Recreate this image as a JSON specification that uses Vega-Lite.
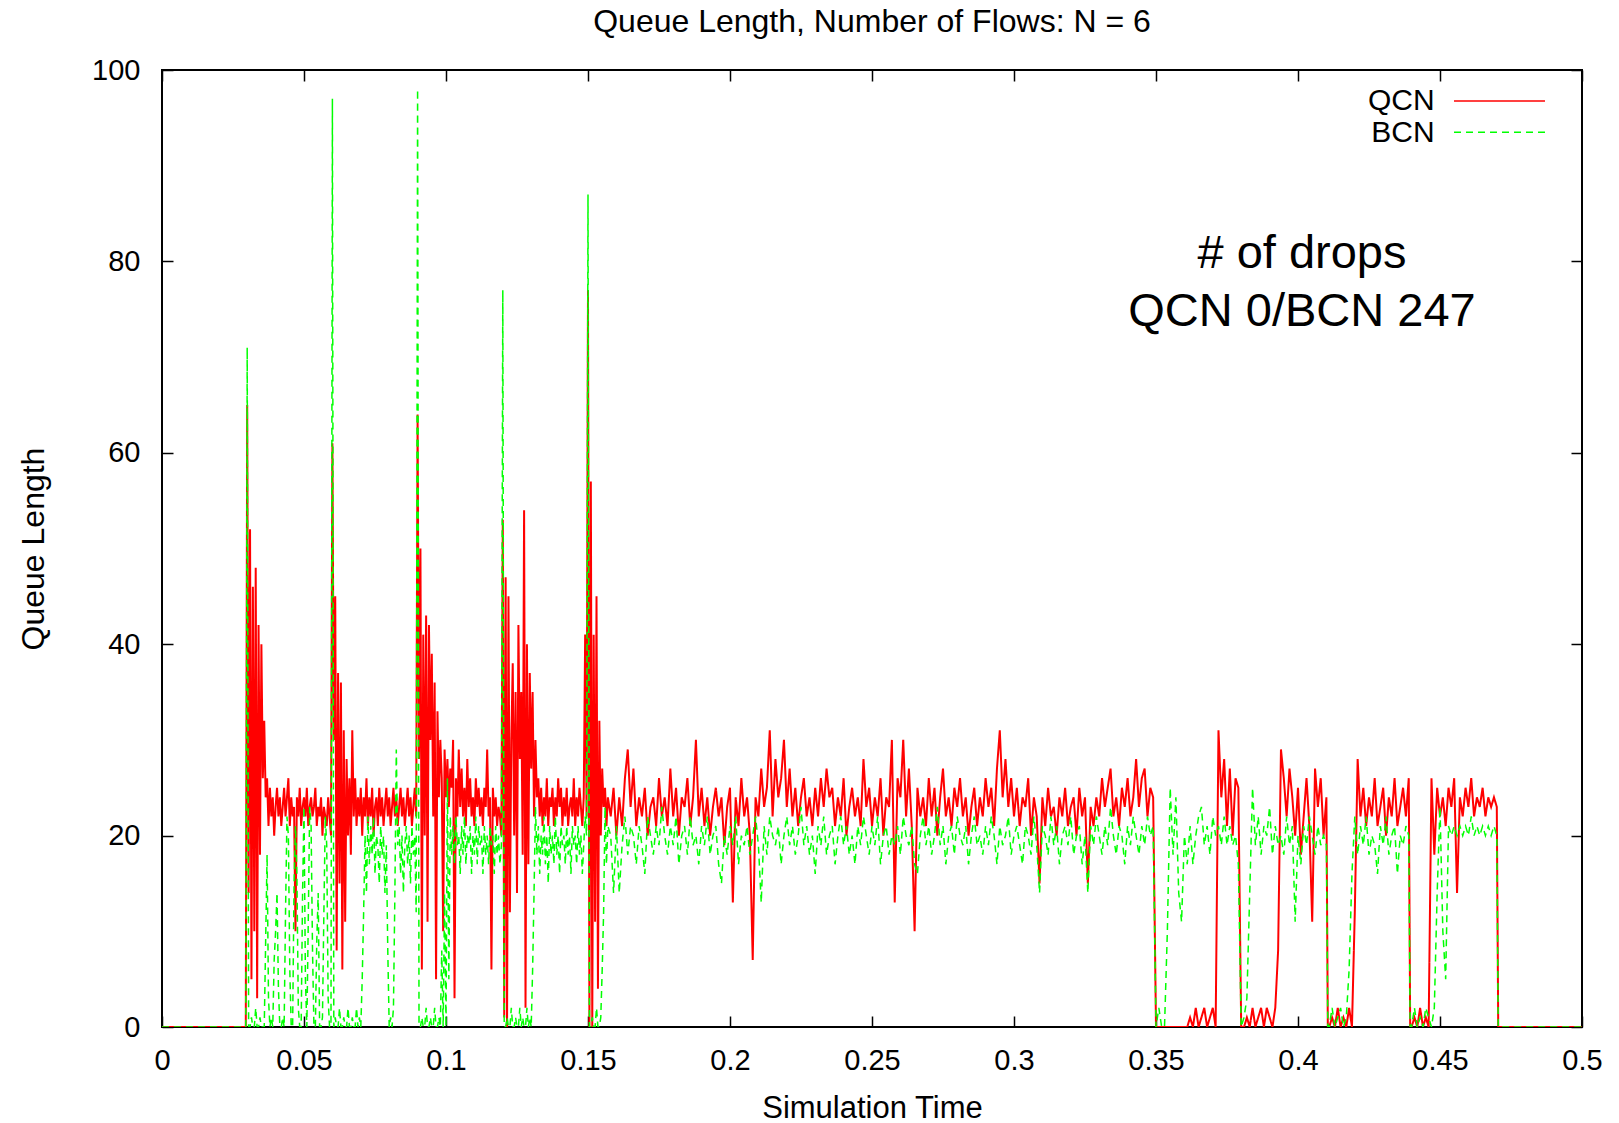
{
"$schema": "https://vega.github.io/schema/vega-lite/v6.json",
"width": 1420,
"height": 957,
"autosize": {"type": "none"},
"padding": {"left": 162, "top": 70, "right": 37, "bottom": 96},
"background": "white",
"title": {"text": "Queue Length, Number of Flows: N = 6", "fontSize": 32, "font": "Liberation Sans", "fontWeight": "normal", "color": "#000", "baseline": "alphabetic", "offset": 21.5, "dy": 29, "anchor": "middle"},
"datasets": {"q": [
{"t":0,"QCN":0,"BCN":0},{"t":0.0295,"QCN":0,"BCN":0},
{"t":0.03,"QCN":65,"BCN":71},{"t":0.0305,"QCN":14,"BCN":0},{"t":0.031,"QCN":52,"BCN":0},{"t":0.0315,"QCN":5,"BCN":1},{"t":0.032,"QCN":46,"BCN":0},{"t":0.0325,"QCN":10,"BCN":0},{"t":0.033,"QCN":48,"BCN":2},{"t":0.0335,"QCN":3,"BCN":0},{"t":0.034,"QCN":42,"BCN":0},{"t":0.0345,"QCN":18,"BCN":1},{"t":0.035,"QCN":40,"BCN":0},{"t":0.0355,"QCN":26,"BCN":0},{"t":0.036,"QCN":32,"BCN":0},{"t":0.0365,"QCN":24,"BCN":9},{"t":0.037,"QCN":26,"BCN":18},{"t":0.0375,"QCN":21,"BCN":3},{"t":0.038,"QCN":25,"BCN":0},{"t":0.0385,"QCN":22,"BCN":1},{"t":0.039,"QCN":24,"BCN":0},{"t":0.0395,"QCN":20,"BCN":7},
{"t":0.04,"QCN":23,"BCN":10},{"t":0.0405,"QCN":25,"BCN":14},{"t":0.041,"QCN":22,"BCN":4},{"t":0.0415,"QCN":24,"BCN":0},{"t":0.042,"QCN":21,"BCN":0},{"t":0.0425,"QCN":23,"BCN":1},{"t":0.043,"QCN":25,"BCN":0},{"t":0.0435,"QCN":22,"BCN":12},{"t":0.044,"QCN":24,"BCN":22},{"t":0.0445,"QCN":26,"BCN":20},{"t":0.045,"QCN":21,"BCN":6},{"t":0.0455,"QCN":24,"BCN":0},{"t":0.046,"QCN":22,"BCN":0},{"t":0.0465,"QCN":23,"BCN":15},{"t":0.047,"QCN":10,"BCN":21},{"t":0.0475,"QCN":24,"BCN":16},{"t":0.048,"QCN":22,"BCN":2},{"t":0.0485,"QCN":25,"BCN":0},{"t":0.049,"QCN":21,"BCN":0},{"t":0.0495,"QCN":23,"BCN":14},
{"t":0.05,"QCN":24,"BCN":23},{"t":0.0505,"QCN":22,"BCN":5},{"t":0.051,"QCN":25,"BCN":0},{"t":0.0515,"QCN":21,"BCN":11},{"t":0.052,"QCN":23,"BCN":23},{"t":0.0525,"QCN":24,"BCN":21},{"t":0.053,"QCN":22,"BCN":8},{"t":0.0535,"QCN":23,"BCN":0},{"t":0.054,"QCN":25,"BCN":0},{"t":0.0545,"QCN":21,"BCN":9},{"t":0.055,"QCN":23,"BCN":14},{"t":0.0555,"QCN":22,"BCN":0},{"t":0.056,"QCN":24,"BCN":0},{"t":0.0565,"QCN":20,"BCN":1},{"t":0.057,"QCN":23,"BCN":12},{"t":0.0575,"QCN":22,"BCN":22},{"t":0.058,"QCN":21,"BCN":19},{"t":0.0585,"QCN":24,"BCN":3},{"t":0.059,"QCN":22,"BCN":0},{"t":0.0595,"QCN":20,"BCN":0},
{"t":0.06,"QCN":61,"BCN":97},{"t":0.0605,"QCN":30,"BCN":0},{"t":0.061,"QCN":45,"BCN":1},{"t":0.0615,"QCN":8,"BCN":0},{"t":0.062,"QCN":37,"BCN":0},{"t":0.0625,"QCN":15,"BCN":2},{"t":0.063,"QCN":36,"BCN":0},{"t":0.0635,"QCN":6,"BCN":0},{"t":0.064,"QCN":31,"BCN":1},{"t":0.0645,"QCN":11,"BCN":0},{"t":0.065,"QCN":28,"BCN":0},{"t":0.0655,"QCN":20,"BCN":2},{"t":0.066,"QCN":26,"BCN":0},{"t":0.0665,"QCN":18,"BCN":0},{"t":0.067,"QCN":31,"BCN":1},{"t":0.0675,"QCN":22,"BCN":0},{"t":0.068,"QCN":26,"BCN":0},{"t":0.0685,"QCN":21,"BCN":2},{"t":0.069,"QCN":24,"BCN":0},{"t":0.0695,"QCN":22,"BCN":1},
{"t":0.07,"QCN":25,"BCN":0},{"t":0.0705,"QCN":20,"BCN":5},{"t":0.071,"QCN":24,"BCN":12},{"t":0.0715,"QCN":22,"BCN":20},{"t":0.072,"QCN":26,"BCN":14},{"t":0.0725,"QCN":21,"BCN":22},{"t":0.073,"QCN":24,"BCN":17},{"t":0.0735,"QCN":22,"BCN":21},{"t":0.074,"QCN":25,"BCN":18},{"t":0.0745,"QCN":20,"BCN":22},{"t":0.075,"QCN":23,"BCN":16},{"t":0.0755,"QCN":24,"BCN":20},{"t":0.076,"QCN":21,"BCN":19},{"t":0.0765,"QCN":25,"BCN":15},{"t":0.077,"QCN":22,"BCN":21},{"t":0.0775,"QCN":24,"BCN":18},{"t":0.078,"QCN":21,"BCN":20},{"t":0.0785,"QCN":23,"BCN":14},{"t":0.079,"QCN":25,"BCN":19},{"t":0.0795,"QCN":22,"BCN":8},
{"t":0.08,"QCN":24,"BCN":0},{"t":0.0805,"QCN":21,"BCN":1},{"t":0.081,"QCN":23,"BCN":0},{"t":0.0815,"QCN":25,"BCN":2},{"t":0.082,"QCN":22,"BCN":14},{"t":0.0825,"QCN":24,"BCN":29},{"t":0.083,"QCN":21,"BCN":19},{"t":0.0835,"QCN":23,"BCN":21},{"t":0.084,"QCN":25,"BCN":16},{"t":0.0845,"QCN":22,"BCN":20},{"t":0.085,"QCN":24,"BCN":14},{"t":0.0855,"QCN":21,"BCN":19},{"t":0.086,"QCN":23,"BCN":21},{"t":0.0865,"QCN":25,"BCN":17},{"t":0.087,"QCN":22,"BCN":20},{"t":0.0875,"QCN":24,"BCN":15},{"t":0.088,"QCN":21,"BCN":21},{"t":0.0885,"QCN":23,"BCN":18},{"t":0.089,"QCN":25,"BCN":20},{"t":0.0895,"QCN":22,"BCN":12},
{"t":0.09,"QCN":64,"BCN":98},{"t":0.0905,"QCN":28,"BCN":0},{"t":0.091,"QCN":50,"BCN":0},{"t":0.0915,"QCN":6,"BCN":1},{"t":0.092,"QCN":41,"BCN":0},{"t":0.0925,"QCN":20,"BCN":0},{"t":0.093,"QCN":43,"BCN":2},{"t":0.0935,"QCN":11,"BCN":0},{"t":0.094,"QCN":42,"BCN":0},{"t":0.0945,"QCN":30,"BCN":1},{"t":0.095,"QCN":39,"BCN":0},{"t":0.0955,"QCN":22,"BCN":0},{"t":0.096,"QCN":36,"BCN":2},{"t":0.0965,"QCN":5,"BCN":0},{"t":0.097,"QCN":33,"BCN":0},{"t":0.0975,"QCN":24,"BCN":1},{"t":0.098,"QCN":30,"BCN":0},{"t":0.0985,"QCN":26,"BCN":8},{"t":0.099,"QCN":10,"BCN":0},{"t":0.0995,"QCN":29,"BCN":14},
{"t":0.1,"QCN":24,"BCN":0},{"t":0.1005,"QCN":28,"BCN":26},{"t":0.101,"QCN":23,"BCN":5},{"t":0.1015,"QCN":27,"BCN":22},{"t":0.102,"QCN":25,"BCN":18},{"t":0.1025,"QCN":30,"BCN":21},{"t":0.103,"QCN":3,"BCN":17},{"t":0.1035,"QCN":26,"BCN":22},{"t":0.104,"QCN":22,"BCN":19},{"t":0.1045,"QCN":29,"BCN":20},{"t":0.105,"QCN":23,"BCN":16},{"t":0.1055,"QCN":27,"BCN":21},{"t":0.106,"QCN":22,"BCN":18},{"t":0.1065,"QCN":25,"BCN":22},{"t":0.107,"QCN":21,"BCN":17},{"t":0.1075,"QCN":28,"BCN":20},{"t":0.108,"QCN":23,"BCN":19},{"t":0.1085,"QCN":26,"BCN":21},{"t":0.109,"QCN":22,"BCN":16},{"t":0.1095,"QCN":24,"BCN":20},
{"t":0.11,"QCN":21,"BCN":18},{"t":0.1105,"QCN":26,"BCN":22},{"t":0.111,"QCN":23,"BCN":17},{"t":0.1115,"QCN":25,"BCN":21},{"t":0.112,"QCN":22,"BCN":19},{"t":0.1125,"QCN":24,"BCN":20},{"t":0.113,"QCN":21,"BCN":16},{"t":0.1135,"QCN":25,"BCN":21},{"t":0.114,"QCN":23,"BCN":18},{"t":0.1145,"QCN":29,"BCN":20},{"t":0.115,"QCN":22,"BCN":17},{"t":0.1155,"QCN":24,"BCN":21},{"t":0.116,"QCN":6,"BCN":19},{"t":0.1165,"QCN":25,"BCN":20},{"t":0.117,"QCN":22,"BCN":16},{"t":0.1175,"QCN":24,"BCN":21},{"t":0.118,"QCN":21,"BCN":18},{"t":0.1185,"QCN":23,"BCN":20},{"t":0.119,"QCN":22,"BCN":17},{"t":0.1195,"QCN":20,"BCN":19},
{"t":0.12,"QCN":53,"BCN":77},{"t":0.1205,"QCN":1,"BCN":0},{"t":0.121,"QCN":47,"BCN":0},{"t":0.1215,"QCN":0,"BCN":1},{"t":0.122,"QCN":45,"BCN":0},{"t":0.1225,"QCN":12,"BCN":0},{"t":0.123,"QCN":30,"BCN":2},{"t":0.1235,"QCN":38,"BCN":0},{"t":0.124,"QCN":20,"BCN":0},{"t":0.1245,"QCN":35,"BCN":1},{"t":0.125,"QCN":14,"BCN":0},{"t":0.1255,"QCN":42,"BCN":0},{"t":0.126,"QCN":28,"BCN":2},{"t":0.1265,"QCN":35,"BCN":0},{"t":0.127,"QCN":18,"BCN":1},{"t":0.1275,"QCN":54,"BCN":0},{"t":0.128,"QCN":2,"BCN":0},{"t":0.1285,"QCN":40,"BCN":2},{"t":0.129,"QCN":17,"BCN":0},{"t":0.1295,"QCN":37,"BCN":1},
{"t":0.13,"QCN":27,"BCN":0},{"t":0.1305,"QCN":35,"BCN":6},{"t":0.131,"QCN":22,"BCN":14},{"t":0.1315,"QCN":30,"BCN":23},{"t":0.132,"QCN":24,"BCN":18},{"t":0.1325,"QCN":26,"BCN":21},{"t":0.133,"QCN":22,"BCN":16},{"t":0.1335,"QCN":25,"BCN":20},{"t":0.134,"QCN":21,"BCN":18},{"t":0.1345,"QCN":24,"BCN":22},{"t":0.135,"QCN":22,"BCN":17},{"t":0.1355,"QCN":26,"BCN":20},{"t":0.136,"QCN":21,"BCN":15},{"t":0.1365,"QCN":24,"BCN":21},{"t":0.137,"QCN":23,"BCN":18},{"t":0.1375,"QCN":25,"BCN":20},{"t":0.138,"QCN":21,"BCN":17},{"t":0.1385,"QCN":24,"BCN":22},{"t":0.139,"QCN":22,"BCN":18},{"t":0.1395,"QCN":26,"BCN":20},
{"t":0.14,"QCN":23,"BCN":16},{"t":0.1405,"QCN":25,"BCN":21},{"t":0.141,"QCN":21,"BCN":19},{"t":0.1415,"QCN":24,"BCN":20},{"t":0.142,"QCN":22,"BCN":17},{"t":0.1425,"QCN":25,"BCN":21},{"t":0.143,"QCN":21,"BCN":18},{"t":0.1435,"QCN":23,"BCN":20},{"t":0.144,"QCN":24,"BCN":16},{"t":0.1445,"QCN":22,"BCN":21},{"t":0.145,"QCN":26,"BCN":19},{"t":0.1455,"QCN":21,"BCN":20},{"t":0.146,"QCN":24,"BCN":17},{"t":0.1465,"QCN":22,"BCN":21},{"t":0.147,"QCN":25,"BCN":18},{"t":0.1475,"QCN":23,"BCN":20},{"t":0.148,"QCN":21,"BCN":16},{"t":0.1485,"QCN":24,"BCN":19},{"t":0.149,"QCN":41,"BCN":22},{"t":0.1495,"QCN":22,"BCN":20},
{"t":0.15,"QCN":77,"BCN":87},{"t":0.1505,"QCN":0,"BCN":0},{"t":0.151,"QCN":57,"BCN":0},{"t":0.1515,"QCN":0,"BCN":1},{"t":0.152,"QCN":41,"BCN":0},{"t":0.1525,"QCN":11,"BCN":0},{"t":0.153,"QCN":45,"BCN":2},{"t":0.1535,"QCN":4,"BCN":0},{"t":0.154,"QCN":32,"BCN":0},{"t":0.1545,"QCN":20,"BCN":1},{"t":0.155,"QCN":27,"BCN":6},{"t":0.1555,"QCN":23,"BCN":12},{"t":0.156,"QCN":25,"BCN":23},{"t":0.1565,"QCN":21,"BCN":17},{"t":0.157,"QCN":24,"BCN":21},
{"t":0.158,"QCN":22,"BCN":20},{"t":0.159,"QCN":25,"BCN":14},{"t":0.16,"QCN":20,"BCN":21},{"t":0.161,"QCN":24,"BCN":14},{"t":0.162,"QCN":21,"BCN":19},{"t":0.163,"QCN":26,"BCN":22},{"t":0.164,"QCN":29,"BCN":18},{"t":0.165,"QCN":23,"BCN":21},{"t":0.166,"QCN":27,"BCN":20},{"t":0.167,"QCN":21,"BCN":17},
{"t":0.168,"QCN":24,"BCN":21},{"t":0.169,"QCN":22,"BCN":19},{"t":0.17,"QCN":25,"BCN":16},{"t":0.171,"QCN":20,"BCN":22},{"t":0.172,"QCN":23,"BCN":20},{"t":0.173,"QCN":24,"BCN":18},{"t":0.174,"QCN":21,"BCN":21},{"t":0.175,"QCN":26,"BCN":19},{"t":0.176,"QCN":22,"BCN":23},{"t":0.177,"QCN":24,"BCN":20},
{"t":0.178,"QCN":21,"BCN":18},{"t":0.179,"QCN":27,"BCN":21},{"t":0.18,"QCN":22,"BCN":19},{"t":0.181,"QCN":25,"BCN":22},{"t":0.182,"QCN":20,"BCN":17},{"t":0.183,"QCN":24,"BCN":20},{"t":0.184,"QCN":23,"BCN":21},{"t":0.185,"QCN":26,"BCN":18},{"t":0.186,"QCN":21,"BCN":22},{"t":0.187,"QCN":24,"BCN":19},
{"t":0.188,"QCN":30,"BCN":20},{"t":0.189,"QCN":22,"BCN":17},{"t":0.19,"QCN":25,"BCN":21},{"t":0.191,"QCN":21,"BCN":19},{"t":0.192,"QCN":24,"BCN":22},{"t":0.193,"QCN":20,"BCN":18},{"t":0.194,"QCN":23,"BCN":20},{"t":0.195,"QCN":25,"BCN":21},{"t":0.196,"QCN":22,"BCN":17},{"t":0.197,"QCN":24,"BCN":15},
{"t":0.198,"QCN":19,"BCN":20},{"t":0.199,"QCN":23,"BCN":18},{"t":0.2,"QCN":25,"BCN":21},{"t":0.201,"QCN":13,"BCN":19},{"t":0.202,"QCN":24,"BCN":22},{"t":0.203,"QCN":21,"BCN":17},{"t":0.204,"QCN":26,"BCN":20},{"t":0.205,"QCN":22,"BCN":19},{"t":0.206,"QCN":24,"BCN":21},{"t":0.207,"QCN":20,"BCN":18},
{"t":0.208,"QCN":7,"BCN":20},{"t":0.209,"QCN":24,"BCN":22},{"t":0.21,"QCN":22,"BCN":19},{"t":0.211,"QCN":27,"BCN":13},{"t":0.212,"QCN":23,"BCN":21},{"t":0.213,"QCN":25,"BCN":18},{"t":0.214,"QCN":31,"BCN":22},{"t":0.215,"QCN":22,"BCN":20},{"t":0.216,"QCN":28,"BCN":19},{"t":0.217,"QCN":24,"BCN":21},
{"t":0.218,"QCN":26,"BCN":17},{"t":0.219,"QCN":30,"BCN":20},{"t":0.22,"QCN":23,"BCN":22},{"t":0.221,"QCN":27,"BCN":19},{"t":0.222,"QCN":22,"BCN":21},{"t":0.223,"QCN":25,"BCN":18},{"t":0.224,"QCN":21,"BCN":20},{"t":0.225,"QCN":24,"BCN":23},{"t":0.226,"QCN":26,"BCN":19},{"t":0.227,"QCN":22,"BCN":21},
{"t":0.228,"QCN":24,"BCN":18},{"t":0.229,"QCN":21,"BCN":20},{"t":0.23,"QCN":25,"BCN":16},{"t":0.231,"QCN":22,"BCN":21},{"t":0.232,"QCN":26,"BCN":19},{"t":0.233,"QCN":23,"BCN":22},{"t":0.234,"QCN":27,"BCN":18},{"t":0.235,"QCN":24,"BCN":20},{"t":0.236,"QCN":25,"BCN":21},{"t":0.237,"QCN":21,"BCN":17},
{"t":0.238,"QCN":24,"BCN":20},{"t":0.239,"QCN":22,"BCN":22},{"t":0.24,"QCN":26,"BCN":19},{"t":0.241,"QCN":20,"BCN":21},{"t":0.242,"QCN":23,"BCN":18},{"t":0.243,"QCN":25,"BCN":20},{"t":0.244,"QCN":22,"BCN":17},{"t":0.245,"QCN":24,"BCN":21},{"t":0.246,"QCN":21,"BCN":19},{"t":0.247,"QCN":28,"BCN":22},
{"t":0.248,"QCN":23,"BCN":20},{"t":0.249,"QCN":25,"BCN":18},{"t":0.25,"QCN":21,"BCN":21},{"t":0.251,"QCN":24,"BCN":19},{"t":0.252,"QCN":22,"BCN":22},{"t":0.253,"QCN":26,"BCN":17},{"t":0.254,"QCN":20,"BCN":20},{"t":0.255,"QCN":24,"BCN":21},{"t":0.256,"QCN":23,"BCN":18},{"t":0.257,"QCN":30,"BCN":20},
{"t":0.258,"QCN":13,"BCN":19},{"t":0.259,"QCN":26,"BCN":21},{"t":0.26,"QCN":24,"BCN":18},{"t":0.261,"QCN":30,"BCN":22},{"t":0.262,"QCN":22,"BCN":20},{"t":0.263,"QCN":27,"BCN":19},{"t":0.264,"QCN":21,"BCN":21},{"t":0.265,"QCN":10,"BCN":17},{"t":0.266,"QCN":25,"BCN":16},{"t":0.267,"QCN":22,"BCN":20},
{"t":0.268,"QCN":24,"BCN":22},{"t":0.269,"QCN":21,"BCN":19},{"t":0.27,"QCN":26,"BCN":21},{"t":0.271,"QCN":22,"BCN":18},{"t":0.272,"QCN":25,"BCN":20},{"t":0.273,"QCN":20,"BCN":23},{"t":0.274,"QCN":24,"BCN":19},{"t":0.275,"QCN":27,"BCN":21},{"t":0.276,"QCN":22,"BCN":17},{"t":0.277,"QCN":24,"BCN":20},
{"t":0.278,"QCN":21,"BCN":21},{"t":0.279,"QCN":25,"BCN":18},{"t":0.28,"QCN":23,"BCN":22},{"t":0.281,"QCN":26,"BCN":20},{"t":0.282,"QCN":22,"BCN":19},{"t":0.283,"QCN":24,"BCN":21},{"t":0.284,"QCN":20,"BCN":17},{"t":0.285,"QCN":23,"BCN":20},{"t":0.286,"QCN":25,"BCN":22},{"t":0.287,"QCN":21,"BCN":19},
{"t":0.288,"QCN":24,"BCN":20},{"t":0.289,"QCN":22,"BCN":18},{"t":0.29,"QCN":26,"BCN":21},{"t":0.291,"QCN":23,"BCN":19},{"t":0.292,"QCN":25,"BCN":22},{"t":0.293,"QCN":21,"BCN":20},{"t":0.294,"QCN":27,"BCN":17},{"t":0.295,"QCN":31,"BCN":21},{"t":0.296,"QCN":24,"BCN":19},{"t":0.297,"QCN":28,"BCN":20},
{"t":0.298,"QCN":23,"BCN":22},{"t":0.299,"QCN":26,"BCN":18},{"t":0.3,"QCN":22,"BCN":20},{"t":0.301,"QCN":25,"BCN":21},{"t":0.302,"QCN":21,"BCN":19},{"t":0.303,"QCN":24,"BCN":17},{"t":0.304,"QCN":23,"BCN":21},{"t":0.305,"QCN":26,"BCN":20},{"t":0.306,"QCN":20,"BCN":18},{"t":0.307,"QCN":24,"BCN":22},
{"t":0.308,"QCN":22,"BCN":19},{"t":0.309,"QCN":15,"BCN":14},{"t":0.31,"QCN":24,"BCN":21},{"t":0.311,"QCN":21,"BCN":20},{"t":0.312,"QCN":25,"BCN":18},{"t":0.313,"QCN":22,"BCN":22},{"t":0.314,"QCN":23,"BCN":19},{"t":0.315,"QCN":20,"BCN":21},{"t":0.316,"QCN":24,"BCN":17},{"t":0.317,"QCN":22,"BCN":20},
{"t":0.318,"QCN":25,"BCN":21},{"t":0.319,"QCN":21,"BCN":19},{"t":0.32,"QCN":23,"BCN":22},{"t":0.321,"QCN":24,"BCN":18},{"t":0.322,"QCN":20,"BCN":20},{"t":0.323,"QCN":25,"BCN":21},{"t":0.324,"QCN":22,"BCN":17},{"t":0.325,"QCN":24,"BCN":20},{"t":0.326,"QCN":15,"BCN":14},{"t":0.327,"QCN":23,"BCN":21},
{"t":0.328,"QCN":21,"BCN":19},{"t":0.329,"QCN":24,"BCN":22},{"t":0.33,"QCN":22,"BCN":20},{"t":0.331,"QCN":26,"BCN":18},{"t":0.332,"QCN":23,"BCN":21},{"t":0.333,"QCN":25,"BCN":19},{"t":0.334,"QCN":27,"BCN":23},{"t":0.335,"QCN":22,"BCN":20},{"t":0.336,"QCN":24,"BCN":18},{"t":0.337,"QCN":21,"BCN":21},
{"t":0.338,"QCN":25,"BCN":20},{"t":0.339,"QCN":23,"BCN":17},{"t":0.34,"QCN":26,"BCN":21},{"t":0.341,"QCN":22,"BCN":19},{"t":0.342,"QCN":24,"BCN":22},{"t":0.343,"QCN":28,"BCN":20},{"t":0.344,"QCN":23,"BCN":18},{"t":0.345,"QCN":26,"BCN":21},{"t":0.346,"QCN":27,"BCN":19},{"t":0.347,"QCN":22,"BCN":22},
{"t":0.348,"QCN":25,"BCN":20},{"t":0.349,"QCN":24,"BCN":21},
{"t":0.35,"QCN":0,"BCN":0},{"t":0.351,"QCN":0,"BCN":2},{"t":0.352,"QCN":0,"BCN":0},{"t":0.353,"QCN":0,"BCN":0},{"t":0.354,"QCN":0,"BCN":10},{"t":0.355,"QCN":0,"BCN":25},{"t":0.356,"QCN":0,"BCN":18},{"t":0.357,"QCN":0,"BCN":24},{"t":0.358,"QCN":0,"BCN":14},{"t":0.359,"QCN":0,"BCN":11},
{"t":0.36,"QCN":0,"BCN":20},{"t":0.361,"QCN":0,"BCN":17},{"t":0.362,"QCN":1,"BCN":21},{"t":0.363,"QCN":0,"BCN":17},{"t":0.364,"QCN":2,"BCN":20},{"t":0.365,"QCN":0,"BCN":22},{"t":0.366,"QCN":1,"BCN":23},{"t":0.367,"QCN":2,"BCN":19},{"t":0.368,"QCN":0,"BCN":21},{"t":0.369,"QCN":1,"BCN":18},
{"t":0.37,"QCN":2,"BCN":22},{"t":0.371,"QCN":0,"BCN":20},{"t":0.372,"QCN":31,"BCN":21},{"t":0.373,"QCN":24,"BCN":19},{"t":0.374,"QCN":28,"BCN":22},{"t":0.375,"QCN":21,"BCN":19},{"t":0.376,"QCN":27,"BCN":21},{"t":0.377,"QCN":20,"BCN":19},{"t":0.378,"QCN":26,"BCN":20},{"t":0.379,"QCN":25,"BCN":17},
{"t":0.38,"QCN":0,"BCN":0},{"t":0.381,"QCN":0,"BCN":1},{"t":0.382,"QCN":1,"BCN":3},{"t":0.383,"QCN":0,"BCN":14},{"t":0.384,"QCN":2,"BCN":25},{"t":0.385,"QCN":0,"BCN":19},{"t":0.386,"QCN":1,"BCN":22},{"t":0.387,"QCN":2,"BCN":18},{"t":0.388,"QCN":0,"BCN":21},{"t":0.389,"QCN":2,"BCN":20},
{"t":0.39,"QCN":1,"BCN":23},{"t":0.391,"QCN":0,"BCN":18},{"t":0.392,"QCN":2,"BCN":21},{"t":0.393,"QCN":8,"BCN":19},{"t":0.394,"QCN":29,"BCN":20},{"t":0.395,"QCN":26,"BCN":18},{"t":0.396,"QCN":22,"BCN":22},{"t":0.397,"QCN":27,"BCN":19},{"t":0.398,"QCN":24,"BCN":21},{"t":0.399,"QCN":20,"BCN":11},
{"t":0.4,"QCN":25,"BCN":20},{"t":0.401,"QCN":18,"BCN":17},{"t":0.402,"QCN":22,"BCN":21},{"t":0.403,"QCN":26,"BCN":19},{"t":0.404,"QCN":21,"BCN":22},{"t":0.405,"QCN":11,"BCN":20},{"t":0.406,"QCN":27,"BCN":18},{"t":0.407,"QCN":23,"BCN":21},{"t":0.408,"QCN":26,"BCN":19},{"t":0.409,"QCN":20,"BCN":20},
{"t":0.41,"QCN":24,"BCN":19},{"t":0.4105,"QCN":0,"BCN":0},{"t":0.411,"QCN":0,"BCN":0},{"t":0.412,"QCN":1,"BCN":2},{"t":0.413,"QCN":0,"BCN":0},{"t":0.414,"QCN":2,"BCN":1},{"t":0.415,"QCN":0,"BCN":2},{"t":0.416,"QCN":1,"BCN":0},{"t":0.417,"QCN":0,"BCN":1},{"t":0.418,"QCN":2,"BCN":6},{"t":0.419,"QCN":0,"BCN":16},
{"t":0.42,"QCN":12,"BCN":22},{"t":0.421,"QCN":28,"BCN":18},{"t":0.422,"QCN":22,"BCN":21},{"t":0.423,"QCN":25,"BCN":19},{"t":0.424,"QCN":21,"BCN":22},{"t":0.425,"QCN":24,"BCN":18},{"t":0.426,"QCN":22,"BCN":20},{"t":0.427,"QCN":26,"BCN":19},{"t":0.428,"QCN":21,"BCN":16},{"t":0.429,"QCN":23,"BCN":21},
{"t":0.43,"QCN":25,"BCN":19},{"t":0.431,"QCN":20,"BCN":22},{"t":0.432,"QCN":24,"BCN":18},{"t":0.433,"QCN":22,"BCN":20},{"t":0.434,"QCN":26,"BCN":21},{"t":0.435,"QCN":21,"BCN":16},{"t":0.436,"QCN":23,"BCN":20},{"t":0.437,"QCN":25,"BCN":19},{"t":0.438,"QCN":22,"BCN":21},{"t":0.439,"QCN":26,"BCN":20},
{"t":0.4395,"QCN":0,"BCN":0},{"t":0.44,"QCN":0,"BCN":0},{"t":0.441,"QCN":1,"BCN":2},{"t":0.442,"QCN":0,"BCN":0},{"t":0.443,"QCN":2,"BCN":1},{"t":0.444,"QCN":0,"BCN":0},{"t":0.445,"QCN":1,"BCN":2},{"t":0.446,"QCN":0,"BCN":1},
{"t":0.447,"QCN":26,"BCN":0},{"t":0.448,"QCN":18,"BCN":2},{"t":0.449,"QCN":25,"BCN":14},{"t":0.45,"QCN":22,"BCN":23},{"t":0.451,"QCN":24,"BCN":10},{"t":0.452,"QCN":21,"BCN":5},{"t":0.453,"QCN":25,"BCN":21},{"t":0.454,"QCN":23,"BCN":20},{"t":0.455,"QCN":26,"BCN":21},{"t":0.456,"QCN":14,"BCN":20},
{"t":0.457,"QCN":24,"BCN":21},{"t":0.458,"QCN":22,"BCN":20},{"t":0.459,"QCN":25,"BCN":21},{"t":0.46,"QCN":23,"BCN":20},{"t":0.461,"QCN":26,"BCN":22},{"t":0.462,"QCN":22,"BCN":20},{"t":0.463,"QCN":24,"BCN":21},{"t":0.464,"QCN":23,"BCN":20},{"t":0.465,"QCN":25,"BCN":21},{"t":0.466,"QCN":22,"BCN":20},
{"t":0.467,"QCN":24,"BCN":21},{"t":0.468,"QCN":23,"BCN":20},{"t":0.469,"QCN":24,"BCN":21},{"t":0.47,"QCN":23,"BCN":20},{"t":0.4705,"QCN":0,"BCN":0},{"t":0.5,"QCN":0,"BCN":0}
]},
"layer": [
{
"data": {"name": "q"},
"transform": [{"fold": ["QCN", "BCN"], "as": ["series", "value"]}, {"filter": "datum.series === 'QCN'"}],
"mark": {"type": "line", "strokeWidth": 2, "clip": true},
"encoding": {
"x": {"field": "t", "type": "quantitative", "scale": {"domain": [0, 0.5], "nice": false, "zero": false},
"axis": {"orient": "bottom", "values": [0, 0.05, 0.1, 0.15, 0.2, 0.25, 0.3, 0.35, 0.4, 0.45, 0.5], "format": "~g", "title": "Simulation Time", "titleX": 710, "titleY": 90, "titleBaseline": "alphabetic", "titleFontSize": 31, "labelPadding": 30, "labelFlush": false}},
"y": {"field": "value", "type": "quantitative", "scale": {"domain": [0, 100], "nice": false},
"axis": {"orient": "left", "values": [0, 20, 40, 60, 80, 100], "title": "Queue Length", "titleX": -119, "titleY": 478.5, "titleBaseline": "alphabetic", "titleAngle": -90, "titleFontSize": 32, "labelPadding": 33, "labelFlush": false}},
"color": {"field": "series", "type": "nominal", "scale": {"domain": ["QCN", "BCN"], "range": ["#ff0000", "#00ff00"]}, "legend": null},
"strokeDash": {"field": "series", "type": "nominal", "scale": {"domain": ["QCN", "BCN"], "range": [[1, 0], [7, 5]]}, "legend": null}
}
},
{
"data": {"name": "q"},
"transform": [{"fold": ["QCN", "BCN"], "as": ["series", "value"]}, {"filter": "datum.series === 'BCN'"}],
"mark": {"type": "line", "strokeWidth": 1.5, "clip": true},
"encoding": {
"x": {"field": "t", "type": "quantitative", "axis": null},
"y": {"field": "value", "type": "quantitative", "axis": null},
"color": {"field": "series", "type": "nominal", "legend": null},
"strokeDash": {"field": "series", "type": "nominal", "legend": null}
}
},
{
"data": {"values": [{}]},
"mark": {"type": "text", "font": "Liberation Sans", "fontSize": 47, "color": "#000", "align": "center", "baseline": "alphabetic", "lineHeight": 58.4},
"encoding": {
"x": {"datum": 0.4014, "type": "quantitative", "axis": {"orient": "top", "values": [0, 0.05, 0.1, 0.15, 0.2, 0.25, 0.3, 0.35, 0.4, 0.45, 0.5], "labels": false, "title": null}},
"y": {"datum": 79.3, "type": "quantitative", "axis": {"orient": "right", "values": [0, 20, 40, 60, 80, 100], "labels": false, "title": null}},
"text": {"value": ["# of drops", "QCN 0/BCN 247"]}
}
},
{
"data": {"values": [{}]},
"mark": {"type": "rule", "color": "#ff0000", "strokeWidth": 1.5},
"encoding": {
"x": {"datum": 0.45493, "type": "quantitative", "axis": null},
"x2": {"datum": 0.48697},
"y": {"datum": 96.76, "type": "quantitative", "axis": null}
}
},
{
"data": {"values": [{}]},
"mark": {"type": "rule", "color": "#00ff00", "strokeWidth": 1.5, "strokeDash": [7, 5]},
"encoding": {
"x": {"datum": 0.45493, "type": "quantitative", "axis": null},
"x2": {"datum": 0.48697},
"y": {"datum": 93.49, "type": "quantitative", "axis": null}
}
},
{
"data": {"values": [{}]},
"mark": {"type": "text", "font": "Liberation Sans", "fontSize": 30, "color": "#000", "align": "right", "baseline": "alphabetic"},
"encoding": {
"x": {"datum": 0.4481, "type": "quantitative", "axis": null},
"y": {"datum": 95.82, "type": "quantitative", "axis": null},
"text": {"value": "QCN"}
}
},
{
"data": {"values": [{}]},
"mark": {"type": "text", "font": "Liberation Sans", "fontSize": 30, "color": "#000", "align": "right", "baseline": "alphabetic"},
"encoding": {
"x": {"datum": 0.4481, "type": "quantitative", "axis": null},
"y": {"datum": 92.48, "type": "quantitative", "axis": null},
"text": {"value": "BCN"}
}
}
],
"resolve": {"axis": {"x": "independent", "y": "independent"}},
"config": {
"font": "Liberation Sans",
"view": {"stroke": "#000", "strokeWidth": 2},
"axis": {"grid": false, "domain": false, "ticks": true, "tickSize": -11, "tickColor": "#000", "tickWidth": 1.5, "labelFont": "Liberation Sans", "labelFontSize": 29, "labelColor": "#000", "titleFont": "Liberation Sans", "titleFontWeight": "normal", "titleColor": "#000"}
}
}
